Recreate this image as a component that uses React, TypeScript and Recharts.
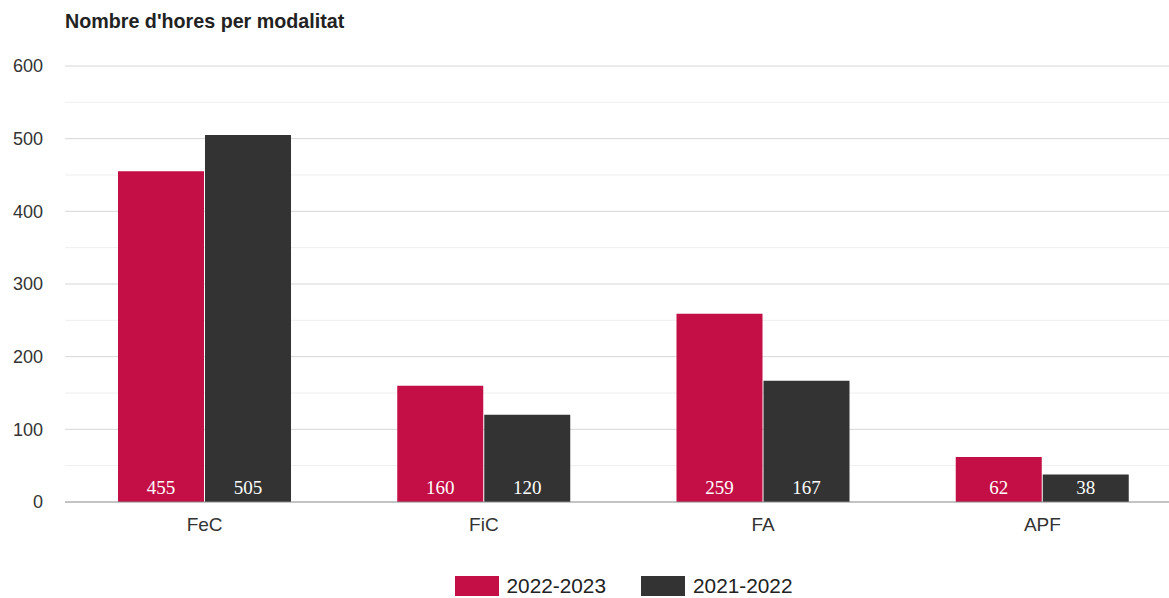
import { BarChart, Bar, XAxis, YAxis, CartesianGrid, Legend, LabelList } from "recharts"

const categories = ["FeC", "FiC", "FA", "APF"]
const hours2022_2023 = [455, 160, 259, 62]
const hours2021_2022 = [505, 120, 167, 38]
const yTicks = [0, 50, 100, 150, 200, 250, 300, 350, 400, 450, 500, 550, 600]
const majorLines = [100, 200, 300, 400, 500, 600]
const minorLines = [50, 150, 250, 350, 450, 550]

const SANS = "'Liberation Sans', Arial, Helvetica, sans-serif"
const RED = "#c30f45"
const DARK = "#333333"

const data = categories.map((name, i) => ({
  name,
  a: hours2022_2023[i],
  b: hours2021_2022[i],
}))

const series = [
  { key: "a", label: "2022-2023", color: RED },
  { key: "b", label: "2021-2022", color: DARK },
]

function LegendContent() {
  return (
    <div
      style={{
        display: "flex",
        justifyContent: "center",
        alignItems: "center",
        height: 24,
        fontFamily: SANS,
        fontSize: 20.8,
        color: "#222",
      }}
    >
      {series.map((s, i) => (
        <div key={s.key} style={{ display: "flex", alignItems: "center", marginLeft: i ? 35 : 0 }}>
          <span style={{ width: 44, height: 20, background: s.color, display: "inline-block", marginRight: 8 }} />
          <span style={{ lineHeight: "20px" }}>{s.label}</span>
        </div>
      ))}
    </div>
  )
}

export default function App() {
  return (
    <div
      style={{
        position: "absolute",
        left: 0,
        top: 0,
        width: 1169,
        height: 598,
        overflow: "hidden",
        background: "#fff",
      }}
    >
      <div
        style={{
          position: "absolute",
          left: 65,
          top: 10,
          fontFamily: SANS,
          fontWeight: "bold",
          fontSize: 19.7,
          lineHeight: "22px",
          color: "#222",
          zIndex: 1,
        }}
      >
        Nombre d'hores per modalitat
      </div>
      <BarChart
        width={1201}
        height={598}
        data={data}
        margin={{ top: 66, right: 19, bottom: 30, left: 0 }}
        barCategoryGap={53}
        barGap={1}
      >
        <CartesianGrid vertical={false} horizontalValues={minorLines} stroke="#eeeeee" strokeWidth={1} />
        <CartesianGrid vertical={false} horizontalValues={majorLines} stroke="#d6d6d6" strokeWidth={1} />
        <XAxis
          dataKey="name"
          height={42}
          tickLine={false}
          tickSize={0}
          tickMargin={16}
          axisLine={{ stroke: "#888888" }}
          tick={{ fontFamily: SANS, fontSize: 19, fill: "#333" }}
        />
        <YAxis
          width={65}
          domain={[0, 600]}
          ticks={yTicks}
          interval={0}
          axisLine={false}
          tickLine={false}
          tickSize={0}
          tickMargin={22}
          tickFormatter={(v: number) => (v % 100 === 0 ? String(v) : "")}
          tick={{ fontFamily: SANS, fontSize: 18, fill: "#333" }}
        />
        <Legend
          verticalAlign="bottom"
          height={24}
          content={<LegendContent />}
          wrapperStyle={{ bottom: 0, left: 65, width: 1117 }}
        />
        {series.map((s) => (
          <Bar key={s.key} dataKey={s.key} name={s.label} fill={s.color} isAnimationActive={false}>
            <LabelList
              dataKey={s.key}
              position="insideBottom"
              offset={8}
              fill="#ffffff"
              style={{ fontFamily: "'Liberation Serif', 'Times New Roman', serif", fontSize: 19 }}
            />
          </Bar>
        ))}
      </BarChart>
    </div>
  )
}
